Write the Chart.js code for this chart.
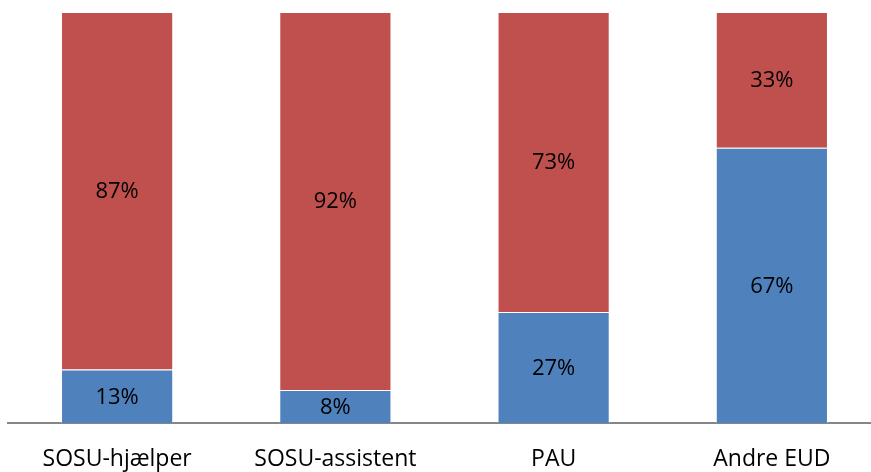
<!DOCTYPE html>
<html>
<head>
<meta charset="utf-8">
<script src="https://cdn.jsdelivr.net/npm/chart.js@4"></script>
<style>
  html, body { margin: 0; padding: 0; background: #fff; overflow: hidden; }
  #wrap { width: 881px; height: 472px; }
</style>
</head>
<body>
<div id="wrap"><canvas id="chart" width="881" height="472"></canvas></div>
<script>
const categories = ["SOSU-hjælper", "SOSU-assistent", "PAU", "Andre EUD"];
const blueValues = [13, 8, 27, 67];
const redValues = [87, 92, 73, 33];

// draws "NN%" in the middle of each bar segment
const segmentLabels = {
  id: "segmentLabels",
  afterDatasetsDraw(chart) {
    const ctx = chart.ctx;
    ctx.save();
    ctx.font = "22px 'Open Sans', sans-serif";
    ctx.fillStyle = "#000";
    ctx.textAlign = "center";
    ctx.textBaseline = "middle";
    chart.data.datasets.forEach((ds, i) => {
      chart.getDatasetMeta(i).data.forEach((bar, j) => {
        const mid = (bar.y + bar.base) / 2;
        ctx.fillText(ds.data[j] + "%", bar.x, mid + 1);
      });
    });
    ctx.restore();
  },
};

new Chart(document.getElementById("chart").getContext("2d"), {
  type: "bar",
  data: {
    labels: categories,
    datasets: [
      {
        label: "blue",
        data: blueValues,
        backgroundColor: "#4f81bd",
        borderColor: "rgba(255,255,255,0.4)",
        borderWidth: 1,
        barPercentage: 0.514,
        categoryPercentage: 1,
      },
      {
        label: "red",
        data: redValues,
        backgroundColor: "#c0504d",
        borderColor: "rgba(255,255,255,0.4)",
        borderWidth: 1,
        barPercentage: 0.514,
        categoryPercentage: 1,
      },
    ],
  },
  options: {
    responsive: false,
    animation: false,
    layout: { padding: { left: 8, right: 0, top: 12, bottom: 0 } },
    plugins: {
      legend: { display: false },
      tooltip: { enabled: false },
    },
    scales: {
      x: {
        stacked: true,
        grid: { display: false, drawTicks: false },
        border: { display: true, color: "#868686", width: 2 },
        ticks: {
          color: "#000",
          padding: 23,
          maxRotation: 0,
          font: { family: "'Open Sans', sans-serif", size: 23 },
        },
        afterFit: (scale) => {
          scale.height = 49;
        },
      },
      y: {
        stacked: true,
        display: false,
        min: 0,
        max: 100,
      },
    },
  },
  plugins: [segmentLabels],
});
</script>
</body>
</html>
